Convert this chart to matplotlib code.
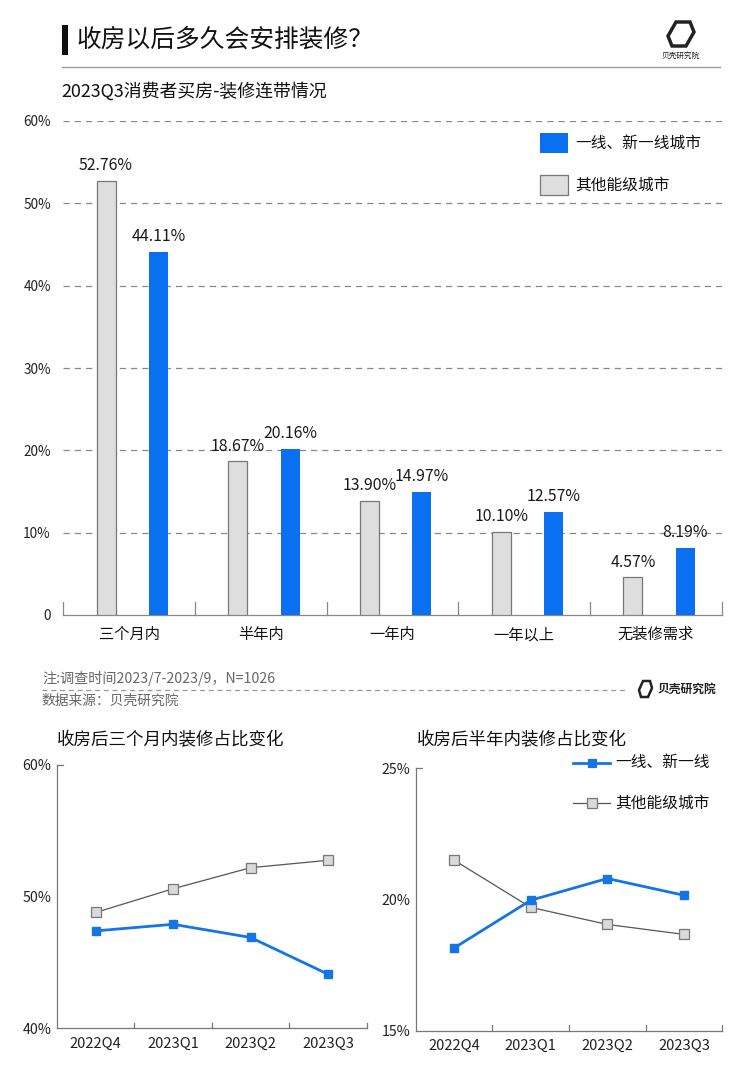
import matplotlib
matplotlib.use("Agg")
import matplotlib.pyplot as plt
from matplotlib.patches import Rectangle, Polygon
from matplotlib.lines import Line2D
import numpy as np

plt.rcParams['font.family'] = ['Noto Sans CJK SC', 'DejaVu Sans']

# ---------------- data ----------------
categories = ["三个月内", "半年内", "一年内", "一年以上", "无装修需求"]
tier1_vals = [44.11, 20.16, 14.97, 12.57, 8.19]
other_vals = [52.76, 18.67, 13.90, 10.10, 4.57]
bar_yticks = [0, 10, 20, 30, 40, 50, 60]
bar_yticklabels = ["0", "10%", "20%", "30%", "40%", "50%", "60%"]

quarters = ["2022Q4", "2023Q1", "2023Q2", "2023Q3"]
three_month_tier1 = [47.4, 47.9, 46.9, 44.11]
three_month_other = [48.8, 50.6, 52.2, 52.76]
half_year_tier1 = [18.15, 19.97, 20.8, 20.16]
half_year_other = [21.5, 19.7, 19.05, 18.67]

legend_tier1 = "一线、新一线城市"
legend_other = "其他能级城市"
line_legend_tier1 = "一线、新一线"
line_legend_other = "其他能级城市"

BLUE = "#0a6ff0"
LBLUE = "#1574e6"
GRAY_FILL = "#dedede"
GRAY_EDGE = "#777777"

W, H = 750, 1078
fig = plt.figure(figsize=(W / 100, H / 100), dpi=100)
fig.patch.set_facecolor("white")

def fx(px):
    return px / W

def fy(py):
    return 1 - py / H

# ---------------- header ----------------
fig.patches.append(Rectangle((fx(62), fy(55)), fx(6), 30 / H, transform=fig.transFigure,
                             facecolor="#111111", edgecolor="none"))
fig.text(fx(76), fy(40), "收房以后多久会安排装修？", fontsize=17.8, color="#111111",
         va="center", ha="left")
fig.lines.append(Line2D([fx(62), fx(720)], [fy(67), fy(67)], transform=fig.transFigure,
                        color="#9a9a9a", lw=1))
# logo
logo = Polygon([[fx(672), fy(46)], [fx(668), fy(36)], [fx(676), fy(22)], [fx(690), fy(22)],
                [fx(694), fy(32)], [fx(686), fy(46)]], closed=True, transform=fig.transFigure,
               facecolor="none", edgecolor="#222222", lw=2.5)
fig.patches.append(logo)
fig.text(fx(681), fy(56), "贝壳研究院", fontsize=5.5, color="#222222", ha="center", va="center")

fig.text(fx(61), fy(91), "2023Q3消费者买房-装修连带情况", fontsize=12.9, color="#111111",
         va="center", ha="left")

# ---------------- main bar chart ----------------
ax = fig.add_axes([fx(63.3), fy(615), fx(721.7) - fx(63.3), fy(121) - fy(615)])
x = np.arange(len(categories))
bw = 0.145
ax.bar(x - 0.175, other_vals, width=bw, color=GRAY_FILL, edgecolor=GRAY_EDGE, linewidth=0.9,
       zorder=3, label=legend_other)
ax.bar(x + 0.223, tier1_vals, width=bw, color=BLUE, edgecolor="none", zorder=3,
       label=legend_tier1)
for i in range(len(categories)):
    ax.text(x[i] - 0.175, other_vals[i] + 0.8, f"{other_vals[i]:.2f}%", ha="center", va="bottom",
            fontsize=11.4, color="#1a1a1a", zorder=4)
    ax.text(x[i] + 0.223, tier1_vals[i] + 0.8, f"{tier1_vals[i]:.2f}%", ha="center", va="bottom",
            fontsize=11.4, color="#1a1a1a", zorder=4)
ax.set_xlim(-0.5, len(categories) - 0.5)
ax.set_ylim(0, 60)
ax.set_yticks(bar_yticks)
ax.set_yticklabels(bar_yticklabels, fontsize=9.8, color="#222222")
for yv in bar_yticks[1:]:
    ax.axhline(yv, color="#888888", lw=0.9, ls=(0, (5, 4)), zorder=1)
ax.tick_params(axis="y", length=0, pad=9)
ax.set_xticks(x)
ax.set_xticklabels(categories, fontsize=11, color="#111111")
ax.tick_params(axis="x", length=0, pad=8)
for b in np.arange(-0.5, len(categories), 1.0):
    ax.plot([b, b], [0, 1.6], color="#888888", lw=0.9, clip_on=False, zorder=2)
for s in ["top", "right", "left"]:
    ax.spines[s].set_visible(False)
ax.spines["bottom"].set_color("#888888")
ax.spines["bottom"].set_linewidth(0.9)

# legend (manual)
fig.patches.append(Rectangle((fx(540), fy(153)), fx(28), 20 / H, transform=fig.transFigure,
                             facecolor=BLUE, edgecolor="none"))
fig.text(fx(575), fy(143), legend_tier1, fontsize=11.3, color="#111111", va="center")
fig.patches.append(Rectangle((fx(540), fy(195)), fx(28), 20 / H, transform=fig.transFigure,
                             facecolor=GRAY_FILL, edgecolor=GRAY_EDGE, lw=0.9))
fig.text(fx(575), fy(185), legend_other, fontsize=11.3, color="#111111", va="center")

# ---------------- notes ----------------
fig.text(fx(42), fy(678), "注:调查时间2023/7-2023/9，N=1026", fontsize=10.2, color="#666666",
         va="center")
fig.lines.append(Line2D([fx(42), fx(628)], [fy(690), fy(690)], transform=fig.transFigure,
                        color="#999999", lw=0.9, ls=(0, (4, 3))))
fig.text(fx(42), fy(701), "数据来源：贝壳研究院", fontsize=9.9, color="#666666", va="center")
logo2 = Polygon([[fx(641), fy(697)], [fx(639), fy(690)], [fx(643), fy(681)], [fx(650), fy(681)],
                 [fx(652), fy(688)], [fx(648), fy(697)]], closed=True, transform=fig.transFigure,
                facecolor="none", edgecolor="#222222", lw=1.8)
fig.patches.append(logo2)
fig.text(fx(657), fy(689), "贝壳研究院", fontsize=8.5, color="#222222", va="center",
         fontweight="bold")

# ---------------- line charts ----------------
def line_chart(rect, t1, ot, ylim, yticks, ylabels, title, title_x):
    a = fig.add_axes(rect)
    xi = np.arange(len(quarters))
    a.plot(xi, ot, color="#555555", lw=0.9, marker="s", markersize=6.5,
           markerfacecolor="#d9d9d9", markeredgecolor="#777777", markeredgewidth=0.9, zorder=3,
           label=line_legend_other)
    a.plot(xi, t1, color=LBLUE, lw=2.0, marker="s", markersize=6,
           markerfacecolor=LBLUE, markeredgecolor=LBLUE, zorder=4, label=line_legend_tier1)
    a.set_xlim(-0.5, len(quarters) - 0.5)
    a.set_ylim(*ylim)
    a.set_yticks(yticks)
    a.set_yticklabels(ylabels, fontsize=10.2, color="#222222")
    a.tick_params(axis="y", length=0, pad=4)
    a.set_xticks(xi)
    a.set_xticklabels(quarters, fontsize=10.6, color="#222222")
    a.tick_params(axis="x", length=0, pad=6)
    span = ylim[1] - ylim[0]
    for b in np.arange(0.5, len(quarters), 1.0):
        a.plot([b, b], [ylim[0], ylim[0] + span * 0.022], color="#777777", lw=0.9,
               clip_on=False)
    a.plot([-0.5, -0.42], [ylim[1], ylim[1]], color="#777777", lw=0.9, clip_on=False)
    for s in ["top", "right"]:
        a.spines[s].set_visible(False)
    for s in ["left", "bottom"]:
        a.spines[s].set_color("#777777")
        a.spines[s].set_linewidth(0.9)
    fig.text(title_x, fy(740), title, fontsize=12.6, color="#111111", va="center",
             fontweight="medium")
    return a

line_chart([fx(57), fy(1028.3), fx(366.7) - fx(57), fy(765) - fy(1028.3)],
           three_month_tier1, three_month_other, (40, 60), [40, 50, 60],
           ["40%", "50%", "60%"], "收房后三个月内装修占比变化", fx(57))
a2 = line_chart([fx(415.7), fy(1030.7), fx(722.3) - fx(415.7), fy(768.3) - fy(1030.7)],
                half_year_tier1, half_year_other, (15, 25), [15, 20, 25],
                ["15%", "20%", "25%"], "收房后半年内装修占比变化", fx(417))

# line legend (manual)
for yy, col, lw, mfc, mec, ms, lab in [
        (763, LBLUE, 2.0, LBLUE, LBLUE, 6, line_legend_tier1),
        (802.7, "#555555", 0.9, "#d9d9d9", "#777777", 6.5, line_legend_other)]:
    fig.lines.append(Line2D([fx(573), fx(610)], [fy(yy), fy(yy)], transform=fig.transFigure,
                            color=col, lw=lw))
    fig.lines.append(Line2D([fx(591.5)], [fy(yy)], transform=fig.transFigure, marker="s",
                            markersize=ms, markerfacecolor=mfc, markeredgecolor=mec,
                            markeredgewidth=0.9, lw=0))
    fig.text(fx(615), fy(yy), lab, fontsize=11.3, color="#111111", va="center")

fig.savefig("out.png", dpi=100, facecolor="white")
